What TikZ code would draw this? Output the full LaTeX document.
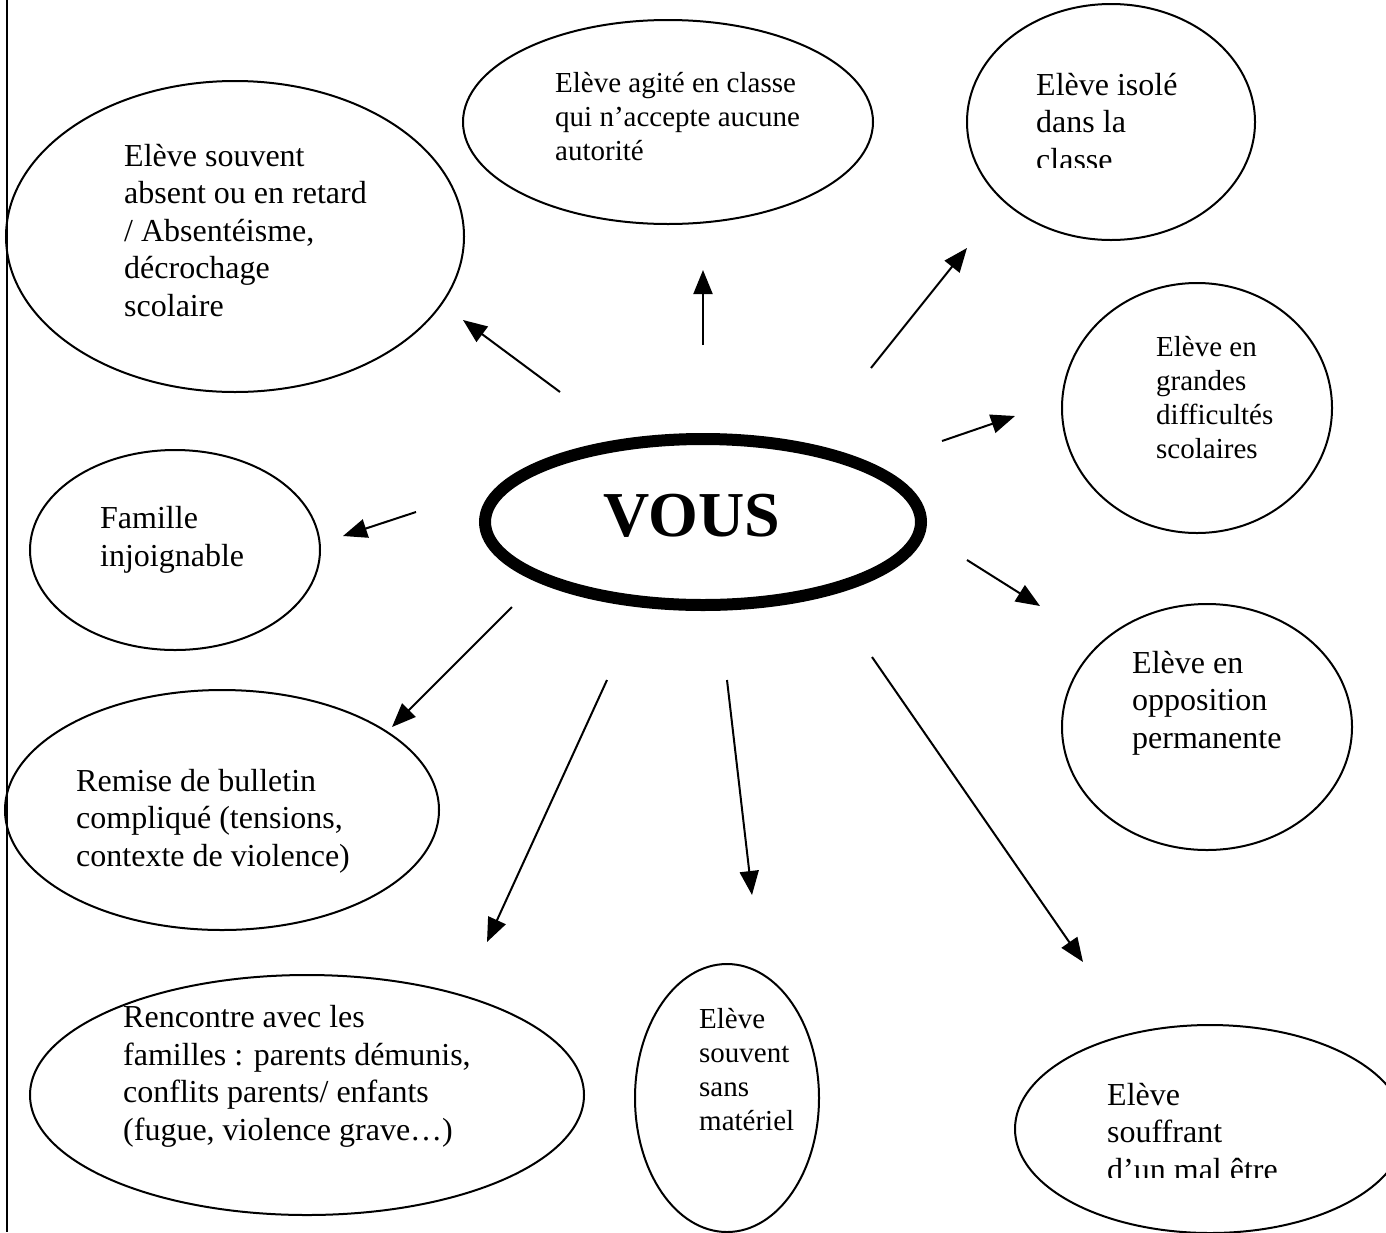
\documentclass[tikz,border=0pt]{standalone}
\usepackage{fontspec}
\setmainfont{Liberation Serif}
\usetikzlibrary{shapes.geometric,arrows.meta}
\begin{document}
\begin{tikzpicture}[x=1pt,y=-1pt,
  bub/.style={draw, ellipse, line width=2pt, inner sep=0pt},
  txt/.style={anchor=base west, align=left, inner sep=0pt, font=\fontsize{32}{37.5}\selectfont},
  txts/.style={anchor=base west, align=left, inner sep=0pt, font=\fontsize{29}{33.7}\selectfont},
  arr/.style={line width=2pt, -{Triangle[length=24pt,width=19pt]}}]
\useasboundingbox (0,0) rectangle (1386,1232);
% left border
\coordinate (bt) at (7,0);
\coordinate (bb) at (7,1232);
\draw[line width=2pt] (bt) -- (bb);

% ellipses
\node[bub, minimum width=458pt, minimum height=311pt] (e1) at (235,236.5) {};
\node[bub, minimum width=410pt, minimum height=204pt] (e2) at (668,122) {};
\node[bub, minimum width=288pt, minimum height=236pt] (e3) at (1111,122) {};
\node[bub, minimum width=270pt, minimum height=250pt] (e4) at (1197,408) {};
\node[bub, minimum width=290pt, minimum height=200pt] (e5) at (175,550) {};
\node[bub, minimum width=290pt, minimum height=246pt] (e7) at (1207,727) {};
\node[bub, minimum width=434pt, minimum height=240pt] (e8) at (222,810) {};
\node[bub, minimum width=554pt, minimum height=240pt] (e9) at (307,1095) {};
\node[bub, minimum width=184pt, minimum height=268pt] (e10) at (727,1098) {};
\node[bub, minimum width=390pt, minimum height=208pt] (e11) at (1210,1129) {};

% central
\node[draw, ellipse, line width=12pt, inner sep=0pt, minimum width=436pt, minimum height=166pt] (vous) at (703,522) {};
\node[anchor=base, inner sep=0pt, font=\bfseries\fontsize{64}{70}\selectfont] (voustxt) at (692,536) {VOUS};

% texts (anchored at the baseline of their last line)
\node[txt] (t1) at (124,316) {Elève souvent\\absent ou en retard\\/ Absentéisme,\\décrochage\\scolaire};
\node[txts] (t2) at (555,160) {Elève agité en classe\\qui n’accepte aucune\\autorité};
\begin{scope}
\clip (1020,40) rectangle (1260,167);
\node[txt] (t3) at (1036,170) {Elève isolé\\dans la\\classe};
\end{scope}
\node[txts] (t4) at (1156,458) {Elève en\\grandes\\difficultés\\scolaires};
\node[txt] (t5) at (100,566) {Famille\\injoignable};
\node[txt] (t7) at (1132,748) {Elève en\\opposition\\permanente};
\node[txt] (t8) at (76,866) {Remise de bulletin\\compliqué (tensions,\\contexte de violence)};
\node[txt] (t9) at (123,1140) {Rencontre avec les\\familles : parents démunis,\\conflits parents/ enfants\\(fugue, violence grave…)};
\node[txts] (t10) at (699,1130) {Elève\\souvent\\sans\\matériel};
\begin{scope}
\clip (1090,1060) rectangle (1300,1177);
\node[txt] (t11) at (1107,1180) {Elève\\souffrant\\d’un mal être};
\end{scope}

% arrows
\coordinate (a0) at (560,392); \coordinate (a1) at (463,320);
\coordinate (b0) at (703,345); \coordinate (b1) at (703,270);
\coordinate (c0) at (871,368); \coordinate (c1) at (967,248);
\coordinate (d0) at (942,441); \coordinate (d1) at (1015,416);
\coordinate (e0) at (416,512); \coordinate (e1p) at (343,536);
\coordinate (f0) at (967,560); \coordinate (f1) at (1040,606);
\coordinate (g0) at (512,607); \coordinate (g1) at (392,727);
\coordinate (h0) at (607,680); \coordinate (h1) at (487,942);
\coordinate (i0) at (727,680); \coordinate (i1) at (752,895);
\coordinate (j0) at (872,657); \coordinate (j1) at (1083,962);
\draw[arr] (a0) -- (a1);
\draw[arr] (b0) -- (b1);
\draw[arr] (c0) -- (c1);
\draw[arr] (d0) -- (d1);
\draw[arr] (e0) -- (e1p);
\draw[arr] (f0) -- (f1);
\draw[arr] (g0) -- (g1);
\draw[arr] (h0) -- (h1);
\draw[arr] (i0) -- (i1);
\draw[arr] (j0) -- (j1);
\end{tikzpicture}
\end{document}
